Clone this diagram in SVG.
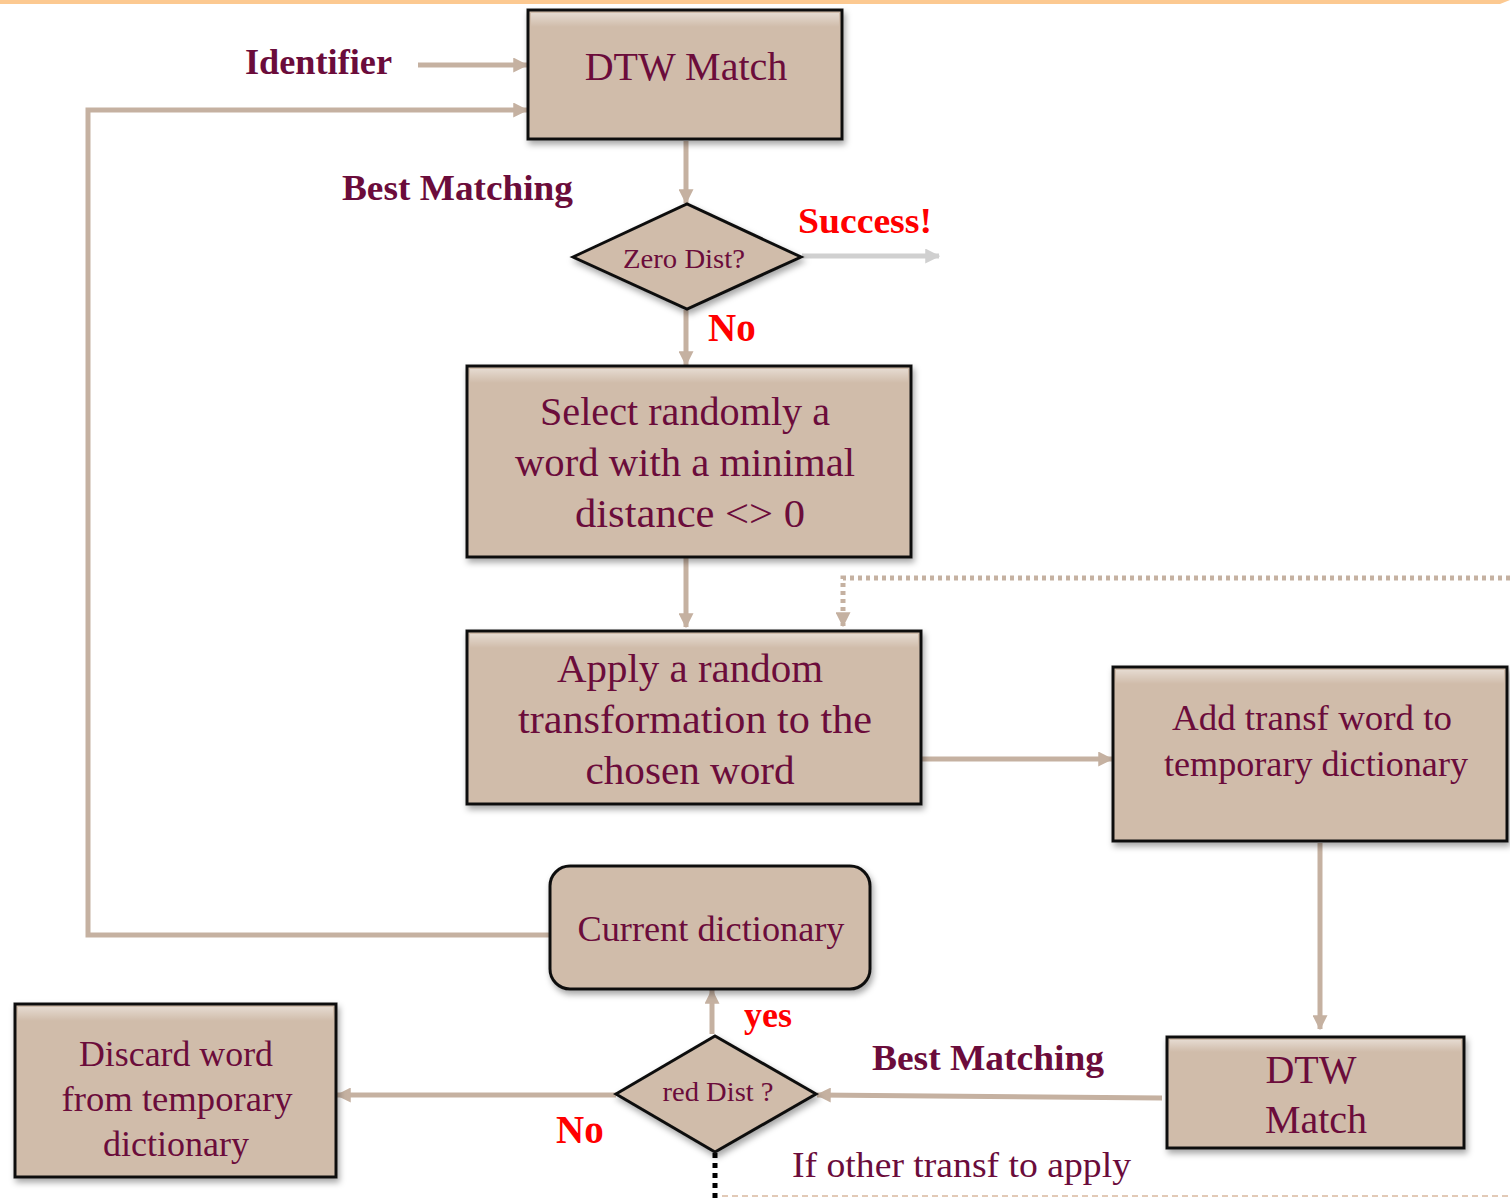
<svg xmlns="http://www.w3.org/2000/svg" width="1510" height="1199" viewBox="0 0 1510 1199">
<defs>
<style>
.box{fill:#D0BCAA;stroke:#111;stroke-width:3;filter:url(#sh)}
.t{font-family:"Liberation Serif",serif;fill:#6B0C3B;text-anchor:middle}
.lb{font-family:"Liberation Serif",serif;fill:#6B0C3B;font-weight:bold}
.red{font-family:"Liberation Serif",serif;fill:#FF0000;font-weight:bold}
.c{fill:none;stroke:#C5B1A1;stroke-width:5}
</style>
<filter id="sh" x="-10%" y="-10%" width="125%" height="130%">
<feDropShadow dx="2" dy="4" stdDeviation="3" flood-color="#000" flood-opacity="0.35"/>
</filter>
<linearGradient id="hl" x1="0" y1="0" x2="0" y2="1">
<stop offset="0" stop-color="#fff" stop-opacity="0.45"/>
<stop offset="1" stop-color="#fff" stop-opacity="0"/>
</linearGradient>
<marker id="ah" viewBox="0 0 12 12" refX="11" refY="6" markerWidth="15" markerHeight="15" markerUnits="userSpaceOnUse" orient="auto">
<path d="M0,0 L12,6 L0,12 Z" fill="#C5B1A1"/>
</marker>
<marker id="ahg" viewBox="0 0 12 12" refX="11" refY="6" markerWidth="15" markerHeight="15" markerUnits="userSpaceOnUse" orient="auto">
<path d="M0,0 L12,6 L0,12 Z" fill="#D0D0D0"/>
</marker>
</defs>
<rect width="1510" height="1199" fill="#fff"/>
<path d="M0,0 H1510 L1500,4 H0 Z" fill="#FCC991"/>

<g id="connectors">
<line class="c" x1="418" y1="65" x2="527" y2="65" marker-end="url(#ah)"/>
<path class="c" d="M550,935 H88 V110 H527" marker-end="url(#ah)"/>
<line class="c" x1="686" y1="141" x2="686" y2="203" marker-end="url(#ah)"/>
<line x1="802" y1="256" x2="939" y2="256" stroke="#D0D0D0" stroke-width="5" marker-end="url(#ahg)"/>
<line class="c" x1="686" y1="310" x2="686" y2="365" marker-end="url(#ah)"/>
<line class="c" x1="686" y1="558" x2="686" y2="627" marker-end="url(#ah)"/>
<path d="M1510,578 H843 V626" fill="none" stroke="#C5B1A1" stroke-width="5" stroke-dasharray="4 4" marker-end="url(#ah)"/>
<line class="c" x1="922" y1="759" x2="1112" y2="759" marker-end="url(#ah)"/>
<line class="c" x1="1320" y1="843" x2="1320" y2="1029" marker-end="url(#ah)"/>
<line class="c" x1="1162" y1="1098" x2="817" y2="1095" marker-end="url(#ah)"/>
<line class="c" x1="712" y1="1034" x2="712" y2="990" marker-end="url(#ah)"/>
<line class="c" x1="616" y1="1095" x2="337" y2="1095" marker-end="url(#ah)"/>
<line x1="715" y1="1153" x2="715" y2="1199" stroke="#000" stroke-width="5" stroke-dasharray="5 5"/>
<line x1="722" y1="1196" x2="1510" y2="1196" stroke="#D9B9A0" stroke-width="1.5" stroke-dasharray="6 4"/>
</g>

<g id="lbl-identifier"><text class="lb" x="245" y="74" font-size="35" textLength="147" lengthAdjust="spacingAndGlyphs">Identifier</text></g>
<g id="lbl-best1"><text class="lb" x="342" y="200" font-size="35" textLength="231" lengthAdjust="spacingAndGlyphs">Best Matching</text></g>
<g id="lbl-success"><text class="red" x="798" y="233" font-size="35" textLength="134" lengthAdjust="spacingAndGlyphs">Success!</text></g>
<g id="lbl-no1"><text class="red" x="708" y="341" font-size="39">No</text></g>
<g id="lbl-yes"><text class="red" x="744" y="1027" font-size="36">yes</text></g>
<g id="lbl-best2"><text class="lb" x="872" y="1070" font-size="35" textLength="232" lengthAdjust="spacingAndGlyphs">Best Matching</text></g>
<g id="lbl-no2"><text class="red" x="556" y="1143" font-size="39">No</text></g>
<g id="lbl-other"><text class="lb" style="font-weight:normal" x="792" y="1177" font-size="35" textLength="339" lengthAdjust="spacingAndGlyphs">If  other transf  to apply</text></g>

<g id="dtw1">
<rect class="box" x="528" y="10" width="314" height="129"/>
<rect x="531" y="13" width="308" height="14" fill="url(#hl)"/>
<text class="t" x="686" y="80" font-size="40">DTW Match</text>
</g>

<g id="zero">
<polygon class="box" points="573,257 687,204 801,257 687,309"/>
<text class="t" x="684" y="268" font-size="28" textLength="122" lengthAdjust="spacingAndGlyphs">Zero Dist?</text>
</g>

<g id="select">
<rect class="box" x="467" y="366" width="444" height="191"/>
<rect x="470" y="369" width="438" height="14" fill="url(#hl)"/>
<text class="t" x="685" y="425" font-size="40" textLength="290" lengthAdjust="spacingAndGlyphs">Select randomly a</text>
<text class="t" x="685" y="476" font-size="40" textLength="340" lengthAdjust="spacingAndGlyphs">word with a minimal</text>
<text class="t" x="690" y="527" font-size="40" textLength="230" lengthAdjust="spacingAndGlyphs">distance &lt;&gt; 0</text>
</g>

<g id="apply">
<rect class="box" x="467" y="631" width="454" height="173"/>
<rect x="470" y="634" width="448" height="14" fill="url(#hl)"/>
<text class="t" x="690" y="682" font-size="40" textLength="266" lengthAdjust="spacingAndGlyphs">Apply a random</text>
<text class="t" x="695" y="733" font-size="40" textLength="354" lengthAdjust="spacingAndGlyphs">transformation to the</text>
<text class="t" x="690" y="784" font-size="40" textLength="209" lengthAdjust="spacingAndGlyphs">chosen word</text>
</g>

<g id="addtemp">
<rect class="box" x="1113" y="667" width="394" height="174"/>
<rect x="1116" y="670" width="388" height="14" fill="url(#hl)"/>
<text class="t" x="1312" y="730" font-size="36" textLength="280" lengthAdjust="spacingAndGlyphs">Add transf  word to</text>
<text class="t" x="1316" y="776" font-size="36" textLength="304" lengthAdjust="spacingAndGlyphs">temporary dictionary</text>
</g>

<g id="current">
<rect class="box" x="550" y="866" width="320" height="123" rx="20"/>
<text class="t" x="711" y="941" font-size="36" textLength="267" lengthAdjust="spacingAndGlyphs">Current dictionary</text>
</g>

<g id="dtw2">
<rect class="box" x="1167" y="1037" width="297" height="111"/>
<rect x="1170" y="1040" width="291" height="12" fill="url(#hl)"/>
<text class="t" x="1311" y="1083" font-size="40">DTW</text>
<text class="t" x="1316" y="1133" font-size="40">Match</text>
</g>

<g id="reddist">
<polygon class="box" points="616,1094 715,1036 816,1094 715,1152"/>
<text class="t" x="718" y="1101" font-size="27" textLength="111" lengthAdjust="spacingAndGlyphs">red Dist ?</text>
</g>

<g id="discard">
<rect class="box" x="15" y="1004" width="321" height="173"/>
<rect x="18" y="1007" width="315" height="14" fill="url(#hl)"/>
<text class="t" x="176" y="1066" font-size="36" textLength="194" lengthAdjust="spacingAndGlyphs">Discard word</text>
<text class="t" x="177" y="1111" font-size="36" textLength="231" lengthAdjust="spacingAndGlyphs">from temporary</text>
<text class="t" x="176" y="1156" font-size="36" textLength="146" lengthAdjust="spacingAndGlyphs">dictionary</text>
</g>
</svg>
